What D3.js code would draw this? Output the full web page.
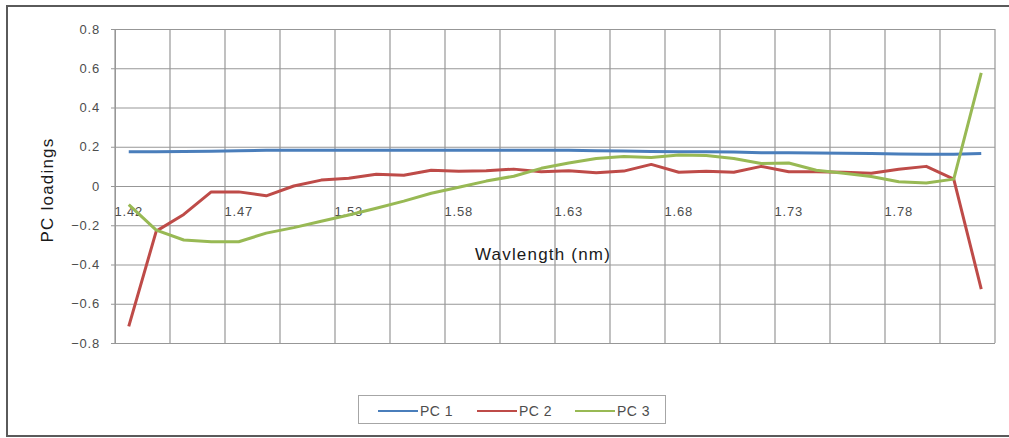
<!DOCTYPE html>
<html><head><meta charset="utf-8">
<script src="https://cdn.jsdelivr.net/npm/d3@7"></script>
<style>body{margin:0;background:#fff;}svg{display:block;font-family:"Liberation Sans",Arial,sans-serif;}</style>
</head><body>
<script>
const wavelengths = [1.420,1.433,1.446,1.459,1.473,1.486,1.499,1.513,1.526,1.539,1.552,1.565,1.578,1.591,1.604,1.616,1.629,1.642,1.655,1.668,1.681,1.694,1.706,1.719,1.732,1.745,1.758,1.771,1.784,1.797,1.810,1.823];
const pc1 = [0.175,0.175,0.176,0.177,0.180,0.182,0.182,0.182,0.182,0.182,0.182,0.182,0.182,0.182,0.182,0.182,0.182,0.180,0.178,0.176,0.175,0.175,0.173,0.170,0.170,0.168,0.167,0.166,0.163,0.162,0.162,0.166];
const pc2 = [-0.715,-0.23,-0.145,-0.03,-0.03,-0.05,0.0,0.03,0.04,0.06,0.055,0.08,0.075,0.078,0.086,0.073,0.078,0.068,0.076,0.11,0.07,0.075,0.07,0.10,0.073,0.073,0.07,0.065,0.085,0.10,0.035,-0.525];
const pc3 = [-0.095,-0.225,-0.275,-0.284,-0.284,-0.24,-0.212,-0.18,-0.148,-0.113,-0.077,-0.037,-0.006,0.025,0.05,0.09,0.117,0.14,0.15,0.145,0.158,0.155,0.14,0.115,0.117,0.08,0.065,0.048,0.022,0.015,0.035,0.577];
const seriesNames = ["PC 1","PC 2","PC 3"];
const seriesColors = ["#4a7ebb","#be4b48","#98b954"];
const yTicks = [-0.8,-0.6,-0.4,-0.2,0,0.2,0.4,0.6,0.8];

const W = 1009, H = 438;
const svg = d3.select("body").append("svg").attr("width", W).attr("height", H);

// outer frame
svg.append("path").attr("d", `M${W+5},6 H7 V436 H${W+5}`).attr("fill","none").attr("stroke","#5a5a5a").attr("stroke-width",2);

const L = 115, R = 995, T = 29, B = 343;
const x = d3.scaleBand().domain(d3.range(wavelengths.length)).range([L, R]);
const y = d3.scaleLinear().domain([-0.8, 0.8]).range([B, T]);
const cx = i => x(i) + x.bandwidth() / 2;

const grid = svg.append("g");
// vertical gridlines every 2 categories
for (let i = 0; i <= wavelengths.length; i += 2) {
  const gx = L + i * x.bandwidth();
  grid.append("line").attr("x1", gx).attr("x2", gx).attr("y1", T).attr("y2", B)
    .attr("stroke", "#979797").attr("stroke-width", 1.2);
}
// y axis with horizontal gridlines
const yAxis = d3.axisLeft(y).tickValues(yTicks).tickSize(-(R - L)).tickPadding(14)
  .tickFormat(d => d === 0 ? "0" : d3.format(".1f")(d));
const ya = svg.append("g").attr("transform", `translate(${L},0)`).call(yAxis);
ya.select(".domain").attr("stroke", "#979797");
ya.selectAll(".tick line").attr("stroke", "#979797").attr("stroke-width", 1.2).attr("x1", -4);
ya.selectAll(".tick text").attr("fill", "#4d4d4d").attr("font-size", 13).attr("letter-spacing", "0.8px").attr("x", -15);

// x axis labels (every 4th category), placed next to zero line
const xAxis = d3.axisBottom(x).tickValues(d3.range(0, wavelengths.length, 4))
  .tickFormat(i => d3.format(".2f")(wavelengths[i])).tickSize(0).tickPadding(21);
const xa = svg.append("g").attr("transform", `translate(0,${y(0)})`).call(xAxis);
xa.select(".domain").remove();
xa.selectAll(".tick text").attr("fill", "#4d4d4d").attr("font-size", 13).attr("letter-spacing", "0.8px");

// lines
const line = d3.line().x((d, i) => cx(i)).y(d => y(d));
[pc1, pc2, pc3].forEach((s, k) => {
  svg.append("path").datum(s).attr("d", line).attr("fill", "none")
    .attr("stroke", seriesColors[k]).attr("stroke-width", 3).attr("stroke-linejoin", "round");
});

// titles
svg.append("text").attr("x", 543).attr("y", 260).attr("text-anchor", "middle")
  .attr("font-size", 17).attr("letter-spacing", "1.2px").attr("fill", "#1a1a1a").text("Wavlength (nm)");
svg.append("text").attr("transform", `translate(53,190) rotate(-90)`).attr("text-anchor", "middle")
  .attr("font-size", 17).attr("letter-spacing", "1.2px").attr("fill", "#1a1a1a").text("PC loadings");

// legend
const lg = svg.append("g");
lg.append("rect").attr("x", 358.5).attr("y", 395.5).attr("width", 307).attr("height", 28)
  .attr("fill", "#fff").attr("stroke", "#a6a6a6");
const lx = [378, 477, 575];
seriesNames.forEach((n, k) => {
  lg.append("line").attr("x1", lx[k]).attr("x2", lx[k] + 40).attr("y1", 411).attr("y2", 411)
    .attr("stroke", seriesColors[k]).attr("stroke-width", 2);
  lg.append("text").attr("x", lx[k] + 42).attr("y", 416).attr("font-size", 14).attr("letter-spacing", "0.5px")
    .attr("fill", "#4d4d4d").text(n);
});
</script>
</body></html>
